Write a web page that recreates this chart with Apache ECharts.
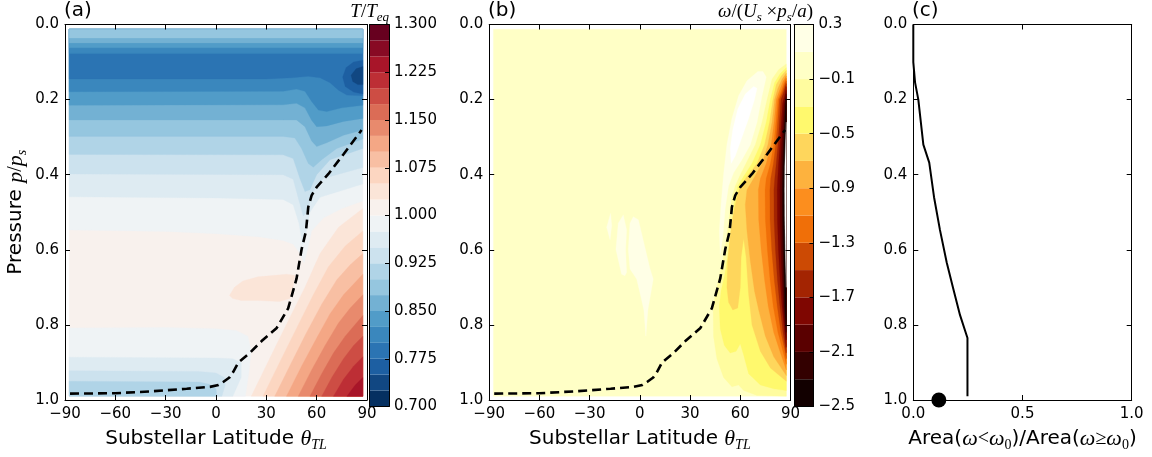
<!DOCTYPE html>
<html>
<head>
<meta charset="utf-8">
<script src="https://cdn.jsdelivr.net/npm/echarts@6/dist/echarts.min.js"></script>
<style>
html,body{margin:0;padding:0;background:#ffffff;}
#chart{width:1152px;height:457px;}
</style>
</head>
<body>
<div id="chart"></div>
<script>
// ================= DATA =================
const latAxisTicks = [-90, -60, -30, 0, 30, 60, 90];
const pAxisTicks = [0, 0.2, 0.4, 0.6, 0.8, 1.0];
const ratioAxisTicks = [0, 0.5, 1.0];
const tLevels = [0.700, 1.300, 0.025];      // min, max, step of T/Teq contour levels
const tTickStep = 0.075;
const wLevels = [-2.5, 0.3, 0.2];           // min, max, step of omega contour levels
const wTickStep = 0.4;
const fieldLat = [-87.5, 87.5];             // latitude extent of model field
const fieldP = [0.0125, 0.99];              // pressure extent of model field

// dashed line (panels a and b)
const dashLat = [-87, -60, -39, -17.5, -3.6, 1.5, 4.3, 8, 10.3, 13.3, 20.3, 27.2, 36.2, 43, 48, 51, 53.6, 55, 57, 60, 67, 75.9, 86.8];
const dashP   = [0.983, 0.982, 0.977, 0.970, 0.965, 0.96, 0.952, 0.94, 0.925, 0.90, 0.874, 0.843, 0.808, 0.756, 0.677, 0.599, 0.551, 0.486, 0.455, 0.433, 0.398, 0.346, 0.281];

// panel c
const areaRatio = [0, 0, 0.008, 0.023, 0.046, 0.073, 0.095, 0.122, 0.153, 0.183, 0.214, 0.248, 0.248];
const areaP     = [0, 0.1, 0.154, 0.2, 0.32, 0.368, 0.46, 0.547, 0.634, 0.704, 0.774, 0.835, 0.99];
const surfaceRatio = [0.117];
const surfaceP = [1.0];

// ---- panel a: T/Teq band boundaries [lat, p] ----
// upper boundaries (band above the curve)
const tC11 = [[-87.5,0.547],[-30,0.551],[0,0.557],[25,0.565],[40,0.575],[46,0.585],[50,0.61],[52.5,0.635],[54.5,0.60],[57,0.55],[64,0.515],[75,0.49],[87.5,0.47]];
const tC10 = [[-87.5,0.459],[0,0.462],[40,0.466],[46,0.48],[49.5,0.53],[51.5,0.585],[53.5,0.56],[56,0.50],[62,0.46],[87.5,0.425]];
const tC9  = [[-87.5,0.398],[40,0.40],[46,0.412],[49.5,0.47],[52,0.51],[54.5,0.50],[57,0.45],[64,0.41],[87.5,0.381]];
const tC8  = [[-87.5,0.346],[40,0.347],[46,0.357],[50,0.41],[53,0.445],[56,0.44],[60,0.40],[68,0.36],[87.5,0.33]];
const tC7  = [[-87.5,0.298],[40,0.298],[47,0.302],[51,0.33],[55,0.37],[58,0.38],[63,0.36],[72,0.33],[87.5,0.305]];
const tC6  = [[-87.5,0.254],[40,0.254],[48,0.254],[53,0.272],[57,0.31],[60,0.325],[66,0.315],[76,0.295],[87.5,0.281]];
const tC5  = [[-87.5,0.215],[40,0.214],[48,0.21],[53,0.222],[57,0.255],[60,0.272],[66,0.27],[76,0.258],[87.5,0.25]];
const tC4  = [[-87.5,0.179],[40,0.178],[48,0.172],[53,0.178],[57,0.205],[61,0.228],[66,0.232],[75,0.222],[87.5,0.215]];
const tC3  = [[-87.5,0.145],[30,0.145],[45,0.142],[55,0.138],[62,0.142],[68,0.155],[73,0.175],[78,0.188],[87.5,0.19]];
const tT4  = [[-87.5,0.077],[87.5,0.077]];
const tT5  = [[-87.5,0.062],[87.5,0.062]];
const tT6  = [[-87.5,0.049],[87.5,0.049]];
const tT7  = [[-87.5,0.036],[87.5,0.036]];
const tCore2 = [[87.5,0.095],[82,0.10],[77.5,0.115],[75.5,0.14],[77,0.165],[82,0.18],[87.5,0.185]];
const tCore1 = [[87.5,0.112],[83.5,0.118],[80.5,0.135],[81.5,0.152],[84.5,0.16],[87.5,0.16]];
// lower-left boundaries (band below the curve)
const tB11 = [[-87.5,0.808],[-30,0.807],[0,0.81],[12,0.815],[19,0.83],[21,0.87],[19.5,0.93],[17.5,0.99]];
const tB10 = [[-87.5,0.886],[0,0.888],[10,0.89],[15,0.9],[15,0.94],[12,0.97],[10,0.99]];
const tB9  = [[-87.5,0.922],[-10,0.924],[0,0.928],[5,0.94],[5.5,0.96],[3.5,0.99]];
const tB8  = [[-87.5,0.95],[-10,0.952],[-4,0.958],[0,0.97],[0.5,0.99]];
const tBump13 = [[8,0.722],[11,0.70],[16,0.683],[25,0.672],[35,0.668],[42,0.665],[47,0.668],[46,0.7],[44,0.73],[38,0.738],[25,0.735],[15,0.735],[10,0.73]];
// warm stripes (band to the lower right of the curve)
const tS13 = [[21,0.99],[33,0.88],[44,0.78],[53,0.70],[62,0.61],[73,0.54],[87.5,0.49]];
const tS14 = [[28,0.99],[39,0.89],[49,0.80],[58,0.72],[67,0.645],[77,0.59],[87.5,0.55]];
const tS15 = [[35,0.99],[45,0.90],[54,0.82],[63,0.745],[72,0.68],[80,0.64],[87.5,0.61]];
const tS16 = [[42,0.99],[51,0.91],[60,0.835],[68,0.77],[76,0.72],[87.5,0.665]];
const tS17 = [[49,0.99],[57,0.92],[65,0.855],[73,0.795],[80,0.755],[87.5,0.72]];
const tS18 = [[56,0.99],[63,0.93],[70,0.875],[77,0.83],[87.5,0.775]];
const tS19 = [[63,0.99],[69,0.94],[76,0.89],[82,0.855],[87.5,0.83]];
const tS20 = [[70,0.99],[76,0.945],[82,0.91],[87.5,0.885]];
const tS21 = [[78,0.99],[83,0.96],[87.5,0.94]];

// ---- panel b: omega regions [lat, p] ----
const wPatchA = [[-17.5,0.503],[-16.8,0.535],[-17.8,0.573],[-19.8,0.54]];
const wPatchB = [[-9.9,0.507],[-7.9,0.547],[-8.5,0.6],[-7.9,0.66],[-8.9,0.669],[-10.9,0.665],[-14.3,0.599],[-12.9,0.529]];
const wPatchC = [[-3.9,0.512],[-0.9,0.52],[6.1,0.651],[8,0.678],[4.8,0.76],[3.6,0.83],[2.4,0.76],[0.1,0.715],[-1.9,0.678],[-5.9,0.651],[-6.9,0.599],[-5.9,0.529]];
const wPale = [[70.5,0.125],[64,0.15],[59,0.19],[55,0.25],[52,0.32],[50,0.40],[48.5,0.48],[47.5,0.55],[48,0.61],[49.5,0.57],[51,0.49],[53,0.43],[56,0.395],[61,0.36],[66,0.32],[70,0.26],[73,0.19],[75.5,0.14],[73.5,0.125]];
const wCore = [[68,0.165],[63,0.185],[58.5,0.225],[55.5,0.28],[54,0.33],[54.5,0.37],[57,0.35],[61,0.30],[65,0.25],[68.5,0.20],[70,0.17]];
const wR11 = [[87.5,0.105],[83,0.12],[79,0.145],[76,0.20],[73,0.26],[69,0.32],[64,0.365],[60,0.40],[57,0.43],[55,0.46],[53.5,0.51],[52,0.56],[50,0.62],[47.5,0.67],[45,0.72],[43.8,0.76],[44,0.83],[46,0.89],[50,0.94],[55,0.965],[59,0.96],[62,0.975],[70,0.988],[87.5,0.99]];
const wR10 = [[87.5,0.115],[84,0.13],[80.5,0.155],[78,0.20],[75.5,0.26],[72,0.32],[67,0.37],[62,0.405],[58.5,0.43],[56.5,0.47],[55,0.53],[53,0.60],[51,0.66],[48.5,0.71],[47.5,0.75],[48,0.81],[50.5,0.855],[54,0.875],[57.5,0.87],[60,0.85],[62,0.88],[65,0.93],[72,0.96],[80,0.97],[87.5,0.975]];
const wR9 = [[87.5,0.122],[84.5,0.137],[81.5,0.16],[79.5,0.20],[77.5,0.26],[74.5,0.32],[70,0.37],[64,0.405],[60,0.43],[58,0.46],[56,0.50],[54,0.56],[52.5,0.63],[52,0.70],[53,0.74],[55.5,0.76],[58.5,0.755],[60,0.70],[60.5,0.62],[62,0.57],[63.5,0.62],[65,0.72],[67,0.80],[72,0.87],[78,0.915],[87.5,0.95]];
const wR8 = [[87.5,0.13],[85,0.145],[82.5,0.17],[80.5,0.20],[79,0.26],[76.5,0.32],[73,0.37],[68,0.41],[64,0.44],[63,0.48],[64,0.55],[66,0.63],[68.5,0.71],[71,0.76],[75,0.83],[80,0.885],[87.5,0.935]];
const wR7 = [[87.5,0.137],[85.5,0.152],[83.5,0.175],[81.5,0.20],[80.2,0.26],[78.5,0.32],[75.5,0.37],[72,0.41],[70.8,0.44],[71,0.52],[72.5,0.60],[74.5,0.68],[76.7,0.75],[80,0.82],[84,0.875],[87.5,0.92]];
const wR6 = [[87.5,0.143],[86,0.158],[84.3,0.18],[82.5,0.20],[81.3,0.26],[80,0.32],[78,0.37],[75.5,0.41],[74.8,0.44],[75,0.52],[76.2,0.60],[77.8,0.68],[79.7,0.75],[82.5,0.82],[85.5,0.87],[87.5,0.905]];
const wR5 = [[87.5,0.15],[86.4,0.163],[85,0.182],[83.3,0.20],[82.3,0.26],[81.2,0.32],[79.8,0.37],[78.2,0.41],[77.7,0.44],[77.8,0.52],[78.8,0.60],[80.3,0.68],[82.1,0.75],[84.3,0.82],[86.5,0.865],[87.5,0.89]];
const wR4 = [[87.5,0.157],[86.8,0.168],[85.6,0.185],[84.3,0.20],[83.4,0.26],[82.5,0.32],[81.5,0.37],[80.6,0.41],[80.1,0.44],[80.2,0.52],[81,0.60],[82.2,0.68],[83.7,0.75],[85.5,0.82],[87.5,0.875]];
const wR3 = [[87.5,0.165],[87.2,0.175],[86.5,0.19],[85.3,0.21],[84.5,0.26],[83.7,0.32],[82.9,0.37],[82.4,0.41],[82.1,0.44],[82.2,0.52],[82.8,0.60],[83.8,0.68],[84.9,0.75],[86.5,0.82],[87.5,0.86]];
const wR2 = [[87.5,0.175],[87,0.195],[86.1,0.215],[85.4,0.26],[84.7,0.32],[84.1,0.37],[83.7,0.44],[83.8,0.52],[84.3,0.60],[85,0.68],[85.7,0.75],[87,0.82],[87.5,0.84]];
const wR1 = [[87.5,0.185],[86.9,0.21],[86.3,0.26],[85.6,0.32],[85.1,0.38],[84.9,0.44],[85,0.52],[85.4,0.60],[85.9,0.68],[86.3,0.75],[87.5,0.82]];
const wR0 = [[87.5,0.20],[87.1,0.23],[86.8,0.27],[86.3,0.32],[85.9,0.38],[85.7,0.44],[85.8,0.52],[86.1,0.60],[86.5,0.68],[86.9,0.75],[87.5,0.80]];
const wRout = [[87.5,0.26],[87,0.32],[86.6,0.38],[86.5,0.44],[86.6,0.52],[86.9,0.60],[87.5,0.70]];

// ================= STYLE =================
const tColorAnchors = ['#053061','#2166ac','#4393c3','#92c5de','#d1e5f0','#f7f7f7','#fddbc7','#f4a582','#d6604d','#b2182b','#67001f'];
const wColors = ['#120000','#330000','#5a0000','#7f0601','#a32402','#cc4a04','#f06f08','#fc8e1e','#fdb23e','#fed65c','#fff96d','#fffc9f','#ffffc6','#ffffe6'];

function hex2rgb(h){ return [1,3,5].map(k => parseInt(h.substr(k,2),16)); }
function sampleMap(anchors, f){
  const n = anchors.length - 1;
  const x = Math.min(Math.max(f,0),1) * n;
  const i = Math.min(Math.floor(x), n-1), t = x - i;
  const a = hex2rgb(anchors[i]), b = hex2rgb(anchors[i+1]);
  return 'rgb(' + a.map((v,k) => Math.round(v + (b[k]-v)*t)).join(',') + ')';
}
const tCount = Math.round((tLevels[1]-tLevels[0])/tLevels[2]);
const wCount = Math.round((wLevels[1]-wLevels[0])/wLevels[2]);
const tColors = Array.from({length:tCount}, (_,i) => sampleMap(tColorAnchors, i/(tCount-1)));

const LAT0 = fieldLat[0], LAT1 = fieldLat[1], PT = fieldP[0], PB = fieldP[1];
const fullRect = [[LAT0,PT],[LAT1,PT],[LAT1,PB],[LAT0,PB]];
const above  = c => c.concat([[LAT1,PT],[LAT0,PT]]);
const below  = c => c.concat([[LAT0,PB]]);
const corner = c => c.concat([[LAT1,PB]]);

const aLayers = [
  [12, fullRect],
  [11, above(tC11)], [10, above(tC10)], [9, above(tC9)], [8, above(tC8)], [7, above(tC7)],
  [6, above(tC6)], [5, above(tC5)], [4, above(tC4)], [3, above(tC3)],
  [4, above(tT4)], [5, above(tT5)], [6, above(tT6)], [7, above(tT7)],
  [2, tCore2], [1, tCore1],
  [11, below(tB11)], [10, below(tB10)], [9, below(tB9)], [8, below(tB8)],
  [13, tBump13],
  [13, corner(tS13)], [14, corner(tS14)], [15, corner(tS15)], [16, corner(tS16)], [17, corner(tS17)],
  [18, corner(tS18)], [19, corner(tS19)], [20, corner(tS20)], [21, corner(tS21)]
];
const bLayers = [
  [12, fullRect],
  [13, wPatchA], [13, wPatchB], [13, wPatchC], [13, wPale], [-1, wCore],
  [11, wR11], [10, wR10], [9, wR9], [8, wR8], [7, wR7], [6, wR6], [5, wR5], [4, wR4],
  [3, wR3], [2, wR2], [1, wR1], [0, wR0], [-1, wRout]
];

const SANS = 'DejaVu Sans';
const SERIF = 'Liberation Serif';
const minus = s => String(s).replace('-', '\u2212');

function polySeries(layers, colors, ai){
  return {
    type:'custom', coordinateSystem:'cartesian2d', xAxisIndex:ai, yAxisIndex:ai,
    clip:true, silent:true, z:2,
    data: layers.map((l,i) => [l[1][0][0], l[1][0][1], i]),
    encode:{x:0, y:1},
    renderItem: (params, api) => {
      const l = layers[params.dataIndex];
      const fill = l[0] < 0 ? '#ffffff' : colors[l[0]];
      return {type:'polygon', shape:{points: l[1].map(q => api.coord(q))}, style:{fill: fill, stroke: fill, lineWidth: 0.3}};
    }
  };
}
function barSeries(colors, ai){
  return {
    type:'custom', coordinateSystem:'cartesian2d', xAxisIndex:ai, yAxisIndex:ai, silent:true, z:2,
    data: colors.map((c,i) => [0.5, i+0.5]),
    encode:{x:0, y:1},
    renderItem: (params, api) => {
      const i = params.dataIndex;
      const a = api.coord([0, i]), b = api.coord([1, i+1]);
      return {type:'rect', shape:{x:a[0], y:b[1], width:b[0]-a[0], height:a[1]-b[1]}, style:{fill: colors[i]}};
    }
  };
}
function dashSeries(ai){
  return {
    type:'line', xAxisIndex:ai, yAxisIndex:ai, z:5, silent:true, symbol:'none',
    data: dashLat.map((v,i) => [v, dashP[i]]),
    lineStyle:{color:'#000', width:2.6, type:[9,5], cap:'butt'}
  };
}

const tickStyle = {inside:true, length:5, lineStyle:{color:'#000', width:1}};
const lineStyleAx = {show:true, onZero:false, lineStyle:{color:'#000', width:1}};
const labelStyle = {color:'#000', fontFamily:SANS, fontSize:15};
const richName = {
  t:{fontFamily:SANS, fontSize:20, color:'#000', lineHeight:26},
  i:{fontFamily:SERIF, fontStyle:'italic', fontSize:22, color:'#000', lineHeight:26},
  s:{fontFamily:SERIF, fontStyle:'italic', fontSize:14, color:'#000', lineHeight:14, verticalAlign:'bottom'},
  m:{fontFamily:SERIF, fontSize:20, color:'#000', lineHeight:26},
  z:{fontFamily:SERIF, fontSize:14, color:'#000', lineHeight:14, verticalAlign:'bottom'}
};
const latName = '{t|Substellar Latitude }{i|\u03b8}{s|TL}';

function mainX(gi, withName, ticks){
  return [
    {type:'value', gridIndex:gi, position:'bottom', min:ticks[0], max:ticks[ticks.length-1], interval:ticks[1]-ticks[0],
     axisLine:lineStyleAx, axisTick:tickStyle, splitLine:{show:false}, z:10,
     axisLabel:Object.assign({margin:7, showMinLabel:true, showMaxLabel:true, formatter:v => ticks === latAxisTicks ? minus(v) : v.toFixed(1)}, labelStyle),
     name:withName, nameLocation:'middle', nameGap:26, nameTextStyle:{rich:richName}},
    {type:'value', gridIndex:gi, position:'top', min:ticks[0], max:ticks[ticks.length-1], interval:ticks[1]-ticks[0],
     axisLine:lineStyleAx, axisTick:tickStyle, axisLabel:{show:false}, splitLine:{show:false}, z:10}
  ];
}
function mainY(gi, withName){
  const t = pAxisTicks;
  return [
    {type:'value', gridIndex:gi, position:'left', inverse:true, min:t[0], max:t[t.length-1], interval:t[1]-t[0],
     axisLine:lineStyleAx, axisTick:tickStyle, splitLine:{show:false}, z:10,
     axisLabel:Object.assign({margin:6, showMinLabel:true, showMaxLabel:true, formatter:v => v.toFixed(1)}, labelStyle),
     name:withName, nameLocation:'middle', nameGap:36, nameRotate:90, nameTextStyle:{rich:richName}},
    {type:'value', gridIndex:gi, position:'right', inverse:true, min:t[0], max:t[t.length-1], interval:t[1]-t[0],
     axisLine:lineStyleAx, axisTick:tickStyle, axisLabel:{show:false}, splitLine:{show:false}, z:10}
  ];
}
function cbarAxes(gi, count, every, fmt){
  return {
    x:{type:'value', gridIndex:gi, min:0, max:1, show:true, position:'bottom', axisLine:lineStyleAx, axisTick:{show:false}, axisLabel:{show:false}, splitLine:{show:false}, z:10},
    x2:{type:'value', gridIndex:gi, min:0, max:1, show:true, position:'top', axisLine:lineStyleAx, axisTick:{show:false}, axisLabel:{show:false}, splitLine:{show:false}, z:10},
    y:{type:'value', gridIndex:gi, position:'right', min:0, max:count, interval:every,
       axisLine:lineStyleAx, axisTick:{inside:true, length:4, lineStyle:{color:'#000', width:1}}, splitLine:{show:false}, z:10,
       axisLabel:Object.assign({margin:5, showMinLabel:true, showMaxLabel:true, formatter:fmt}, labelStyle)},
    y2:{type:'value', gridIndex:gi, position:'left', min:0, max:count, axisLine:lineStyleAx, axisTick:{show:false}, axisLabel:{show:false}, splitLine:{show:false}, z:10}
  };
}

const cbA = cbarAxes(1, tCount, Math.round(tTickStep/tLevels[2]), v => (tLevels[0] + v*tLevels[2]).toFixed(3));
const cbB = cbarAxes(3, wCount, Math.round(wTickStep/wLevels[2]), v => minus((wLevels[0] + v*wLevels[2]).toFixed(1)));

const xAxes = [].concat(
  mainX(0, latName, latAxisTicks),        // 0,1
  [cbA.x, cbA.x2],                        // 2,3
  mainX(2, latName, latAxisTicks),        // 4,5
  [cbB.x, cbB.x2],                        // 6,7
  mainX(4, '{t|Area(}{i|\u03c9}{m|<}{i|\u03c9}{z|0}{t|)/Area(}{i|\u03c9}{m|\u2265}{i|\u03c9}{z|0}{t|)}', ratioAxisTicks) // 8,9
);
const yAxes = [].concat(
  mainY(0, '{t|Pressure }{i|p}{m|/}{i|p}{s|s}'), // 0,1
  [cbA.y, cbA.y2],                               // 2,3
  mainY(2, ''),                                  // 4,5
  [cbB.y, cbB.y2],                               // 6,7
  mainY(4, '')                                   // 8,9
);

const titleRich = {
  i:{fontFamily:SERIF, fontStyle:'italic', fontSize:19, color:'#000', lineHeight:24},
  n:{fontFamily:SERIF, fontSize:19, color:'#000', lineHeight:24},
  s:{fontFamily:SERIF, fontStyle:'italic', fontSize:13, color:'#000', lineHeight:13, verticalAlign:'bottom'}
};

const option = {
  animation:false,
  backgroundColor:'#ffffff',
  grid:[
    {left:65, top:24.5, width:302, height:382},
    {left:369.5, top:24.5, width:19.5, height:382},
    {left:489.2, top:24.5, width:301.3, height:382},
    {left:794, top:24.5, width:19.5, height:382},
    {left:913.3, top:24.5, width:218.4, height:382}
  ],
  xAxis:xAxes,
  yAxis:yAxes,
  graphic:[
    {type:'text', x:64, y:1, style:{text:'(a)', fill:'#000', font:'20px "DejaVu Sans"'}},
    {type:'text', x:488, y:1, style:{text:'(b)', fill:'#000', font:'20px "DejaVu Sans"'}},
    {type:'text', x:912, y:1, style:{text:'(c)', fill:'#000', font:'20px "DejaVu Sans"'}},
    {type:'text', x:389, y:0, style:{text:'{i|T}{n|/}{i|T}{s|eq}', textAlign:'right', rich:titleRich}},
    {type:'text', x:813, y:0, style:{text:'{i|\u03c9}{n|/(}{i|U}{s|s}{n| \u00d7}{i|p}{s|s}{n|/}{i|a}{n|)}', textAlign:'right', rich:titleRich}}
  ],
  series:[
    polySeries(aLayers, tColors, 0),
    dashSeries(0),
    barSeries(tColors, 2),
    polySeries(bLayers, wColors, 4),
    dashSeries(4),
    barSeries(wColors, 6),
    {type:'line', xAxisIndex:8, yAxisIndex:8, symbol:'none', silent:true, z:5,
     data: areaRatio.map((v,i) => [v, areaP[i]]), lineStyle:{color:'#000', width:2}},
    {type:'scatter', xAxisIndex:8, yAxisIndex:8, symbolSize:15, clip:false, silent:true, z:6,
     data: surfaceRatio.map((v,i) => [v, surfaceP[i]]), itemStyle:{color:'#000', opacity:1}}
  ]
};
const chart = echarts.init(document.getElementById('chart'), null, {renderer:'canvas'});
chart.setOption(option);
</script>
</body>
</html>
